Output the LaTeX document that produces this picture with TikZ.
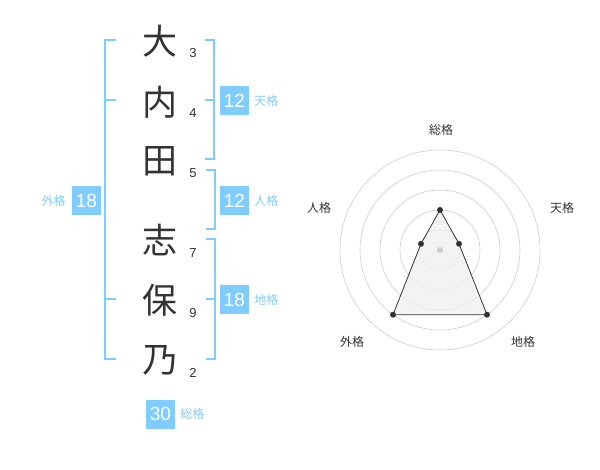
\documentclass[tikz,border=0pt]{standalone}
\usepackage{xcolor}
\usepackage{fontspec}
\setmainfont{Noto Sans CJK JP}
\newfontfamily\digitfont{Liberation Sans}
\usetikzlibrary{positioning,calc}

\definecolor{kakublue}{RGB}{128,204,255}
\definecolor{chargray}{RGB}{51,51,51}

\begin{document}
\begin{tikzpicture}[x=1pt,y=-1pt,
	kanji/.style={text=chargray,inner sep=0pt,font=\fontsize{35}{35}\selectfont},
	strokes/.style={text=chargray,inner sep=0pt,font=\digitfont\fontsize{13}{13}\selectfont},
	bracket/.style={draw=kakublue,line width=1.6pt},
	kakubox/.style={fill=kakublue,text=white,minimum size=29pt,inner sep=0pt,font=\digitfont\fontsize{19}{19}\selectfont},
	kakulabel/.style={text=kakublue,inner sep=0pt,font=\fontsize{12}{12}\selectfont},
	axislabel/.style={text=chargray,inner sep=0pt,font=\fontsize{12}{12}\selectfont}]
	\useasboundingbox (0,0) rectangle (600,470);
	% name
	\node[kanji] (c1) at (160,41) {大};
	\node[kanji] (c2) at (160,102) {内};
	\node[kanji] (c3) at (160,161) {田};
	\node[kanji] (c4) at (160,240) {志};
	\node[kanji] (c5) at (160,300) {保};
	\node[kanji] (c6) at (160,360) {乃};
	\node[strokes] (n1) at (193,53) {3};
	\node[strokes] (n2) at (193,113) {4};
	\node[strokes] (n3) at (193,173) {5};
	\node[strokes] (n4) at (193,253) {7};
	\node[strokes] (n5) at (193,313) {9};
	\node[strokes] (n6) at (193,373) {2};
	% brackets
	\draw[bracket] (116,40) -- (105,40) -- (105,359) -- (116,359);
	\draw[bracket] (105,100) -- (116,100);
	\draw[bracket] (105,299) -- (116,299);
	\draw[bracket] (205,40) -- (214,40) -- (214,159) -- (205,159);
	\draw[bracket] (205,100) -- (214,100);
	\draw[bracket] (206,170) -- (215,170) -- (215,229) -- (206,229);
	\draw[bracket] (206,239) -- (215,239) -- (215,359) -- (206,359);
	\draw[bracket] (206,299) -- (215,299);
	% kaku
	\node[kakubox] (tenbox) at (234.5,100.5) {12};
	\node[kakulabel,right=5pt of tenbox] {天格};
	\node[kakubox] (jinbox) at (234.5,201) {12};
	\node[kakulabel,right=5pt of jinbox] {人格};
	\node[kakubox] (chibox) at (234.5,300) {18};
	\node[kakulabel,right=5pt of chibox] {地格};
	\node[kakubox] (gaibox) at (86.5,201) {18};
	\node[kakulabel,left=6pt of gaibox] {外格};
	\node[kakubox] (sobox) at (160.5,414) {30};
	\node[kakulabel,right=5pt of sobox] {総格};
	% radar
	\begin{scope}[shift={(440,250)}]
		\draw[gray!40,line width=0.6pt] (0,0) circle (20pt);
		\draw[gray!40,line width=0.6pt] (0,0) circle (40pt);
		\draw[gray!40,line width=0.6pt] (0,0) circle (60pt);
		\draw[gray!40,line width=0.6pt] (0,0) circle (80pt);
		\draw[gray!40,line width=0.6pt] (0,0) circle (100pt);
		\coordinate (rso) at (90:40pt);
		\coordinate (rten) at (18:20pt);
		\coordinate (rchi) at (-54:80pt);
		\coordinate (rgai) at (234:80pt);
		\coordinate (rjin) at (162:20pt);
		\filldraw[fill=black!6,fill opacity=0.8,draw=chargray,line width=0.8pt] (rso) -- (rten) -- (rchi) -- (rgai) -- (rjin) -- cycle;
		\fill[gray!40] (0,0) circle (3pt);
		\fill[chargray] (rso) circle (3pt);
		\fill[chargray] (rten) circle (3pt);
		\fill[chargray] (rchi) circle (3pt);
		\fill[chargray] (rgai) circle (3pt);
		\fill[chargray] (rjin) circle (3pt);
	\end{scope}
	\node[axislabel] (lso) at (441,130) {総格};
	\node[axislabel] (lten) at (562,208) {天格};
	\node[axislabel] (ljin) at (319,208) {人格};
	\node[axislabel] (lgai) at (352,342) {外格};
	\node[axislabel] (lchi) at (523,342) {地格};
\end{tikzpicture}
\end{document}
